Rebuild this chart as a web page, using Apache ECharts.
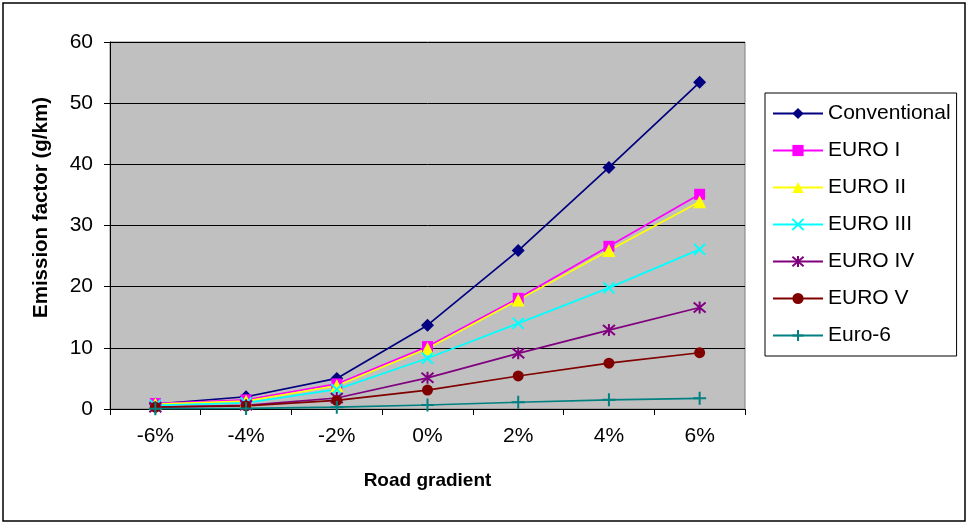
<!DOCTYPE html>
<html><head><meta charset="utf-8">
<script src="https://cdn.jsdelivr.net/npm/echarts@6/dist/echarts.min.js"></script>
<style>html,body{margin:0;padding:0;background:#fff}#c{width:968px;height:525px}</style>
</head><body><div id="c"></div>
<script>
var categories = ['-6%','-4%','-2%','0%','2%','4%','6%'];
var conventional = [0.8, 2.0, 5.0, 13.7, 25.9, 39.5, 53.4];
var euro1 = [0.9, 1.5, 4.1, 10.2, 18.1, 26.6, 35.1];
var euro2 = [0.8, 1.3, 3.8, 9.9, 17.8, 25.9, 33.9];
var euro3 = [0.6, 1.0, 3.2, 8.3, 14.0, 19.8, 26.1];
var euro4 = [0.3, 0.6, 1.8, 5.1, 9.1, 12.9, 16.6];
var euro5 = [0.3, 0.5, 1.4, 3.1, 5.4, 7.5, 9.2];
var euro6 = [0.05, 0.1, 0.3, 0.65, 1.1, 1.5, 1.75];
var yTicks = [0, 10, 20, 30, 40, 50, 60];

var XPATH = 'path://M0,0L10,10M10,0L0,10';
var STARPATH = 'path://M0,0L10,10M10,0L0,10M5,-1L5,11';
var PLUSPATH = 'path://M5,0L5,10M0,5L10,5';
var FONT = 'Liberation Sans, Arial, sans-serif';

function mk(name, data, color, symbol, size, bw) {
  return {
    name: name, type: 'line', data: data,
    symbol: symbol, symbolSize: size,
    lineStyle: {color: color, width: 1.7},
    itemStyle: {color: color, borderColor: color, borderWidth: bw || 0},
    emphasis: {disabled: true},
    animation: false
  };
}

var chart = echarts.init(document.getElementById('c'), null, {renderer: 'canvas'});
chart.setOption({
  backgroundColor: '#fff',
  animation: false,
  textStyle: {fontFamily: FONT},
  graphic: [{type: 'rect', shape: {x: 3, y: 3, width: 962, height: 518}, style: {fill: 'none', stroke: '#000', lineWidth: 1.5}, z: 100}],
  grid: {left: 110, right: 223, top: 42, bottom: 116, show: true, backgroundColor: '#c0c0c0', borderColor: '#808080', borderWidth: 1},
  legend: {
    orient: 'vertical', left: 765, top: 93,
    padding: [10, 6, 10, 7], itemGap: 16, itemWidth: 50, itemHeight: 14,
    borderColor: '#000', borderWidth: 1, backgroundColor: '#fff',
    textStyle: {fontSize: 21, color: '#000', fontFamily: FONT},
    data: ['Conventional','EURO I','EURO II','EURO III','EURO IV','EURO V','Euro-6']
  },
  xAxis: {
    type: 'category', data: categories, boundaryGap: true,
    name: 'Road gradient', nameLocation: 'middle', nameGap: 62,
    nameTextStyle: {fontSize: 19, fontWeight: 'bold', color: '#000'},
    axisLine: {lineStyle: {color: '#000', width: 1}},
    axisTick: {show: true, alignWithLabel: false, length: 6, lineStyle: {color: '#000'}},
    axisLabel: {fontSize: 21, color: '#000', margin: 17},
    splitLine: {show: false}
  },
  yAxis: {
    type: 'value', min: yTicks[0], max: yTicks[yTicks.length - 1], interval: 10,
    name: 'Emission factor (g/km)', nameLocation: 'middle', nameGap: 58, nameRotate: 90,
    nameTextStyle: {fontSize: 20.5, fontWeight: 'bold', color: '#000', padding: [0, 0, 0, 36]},
    axisLine: {show: true, lineStyle: {color: '#000', width: 1}},
    axisTick: {show: true, length: 6, lineStyle: {color: '#000'}},
    axisLabel: {fontSize: 21, color: '#000', margin: 17},
    splitLine: {show: true, lineStyle: {color: '#000', width: 1}}
  },
  series: [
    mk('Conventional', conventional, '#000080', 'diamond', 13),
    mk('EURO I', euro1, '#ff00ff', 'rect', 11),
    mk('EURO II', euro2, '#ffff00', 'triangle', 13),
    mk('EURO III', euro3, '#00ffff', XPATH, 11, 2),
    mk('EURO IV', euro4, '#800080', STARPATH, 12, 2),
    mk('EURO V', euro5, '#800000', 'circle', 11),
    mk('Euro-6', euro6, '#008080', PLUSPATH, 13, 2)
  ]
});
</script></body></html>
